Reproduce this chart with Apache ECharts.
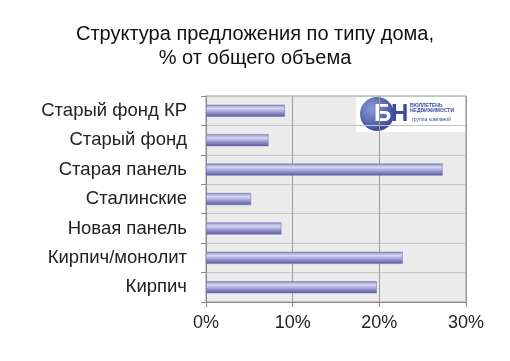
<!DOCTYPE html>
<html><head><meta charset="utf-8">
<script src="https://cdn.jsdelivr.net/npm/echarts@6/dist/echarts.min.js"></script>
<style>html,body{margin:0;padding:0;background:#fff}#c{width:510px;height:361px}</style>
</head><body><div id="c"></div>
<script>
const titleLines = ['Структура предложения по типу дома,', '% от общего объема'];
const categories = ['Старый фонд КР', 'Старый фонд', 'Старая панель', 'Сталинские', 'Новая панель', 'Кирпич/монолит', 'Кирпич'];
const values = [9.1, 7.2, 27.3, 5.2, 8.7, 22.7, 19.7];
const xTicks = [0, 10, 20, 30];

const chart = echarts.init(document.getElementById('c'));
const font = 'Liberation Sans, Arial, sans-serif';
chart.setOption({
  animation: false,
  title: {
    text: titleLines.join('\n'), left: 'center', top: 17,
    textStyle: {fontFamily: font, fontSize: 20, fontWeight: 'normal', color: '#111', lineHeight: 24}
  },
  grid: {left: 206, right: 44, top: 96, bottom: 59, show: true, backgroundColor: '#ebebeb', borderColor: '#9a9a9a', borderWidth: 1},
  xAxis: {
    type: 'value', min: xTicks[0], max: xTicks[xTicks.length - 1], interval: 10,
    axisLine: {show: true, lineStyle: {color: '#888'}},
    axisTick: {show: true, length: 5, lineStyle: {color: '#888'}},
    axisLabel: {formatter: '{value}%', fontFamily: font, fontSize: 18, color: '#222', margin: 12},
    splitLine: {show: true, lineStyle: {color: '#9a9a9a', width: 1}}
  },
  yAxis: {
    type: 'category', data: categories, inverse: true,
    axisLine: {show: true, lineStyle: {color: '#888'}},
    axisTick: {show: true, length: 5, lineStyle: {color: '#888'}},
    axisLabel: {fontFamily: font, fontSize: 18.5, color: '#222', margin: 19},
    splitLine: {show: true, lineStyle: {color: '#c4c4c4', width: 1}}
  },
  series: [{
    type: 'bar', data: values, barWidth: 12,
    itemStyle: {
      color: new echarts.graphic.LinearGradient(0, 0, 0, 1, [
        {offset: 0, color: '#8888c8'},
        {offset: 0.3, color: '#d8d8f4'},
        {offset: 0.6, color: '#9e9ed8'},
        {offset: 1, color: '#58589a'}
      ]),
      borderColor: '#6e6ea8', borderWidth: 0.5
    }
  }],
  graphic: [
    {type: 'rect', shape: {x: 356, y: 97, width: 109, height: 35}, style: {fill: '#ffffff'}},
    {type: 'circle', shape: {cx: 377, cy: 114, r: 17}, style: {fill: new echarts.graphic.RadialGradient(0.35, 0.35, 0.8, [{offset: 0, color: '#8a9ad8'}, {offset: 1, color: '#2c3c8c'}])}},
    {type: 'text', style: {x: 374, y: 114, text: 'Б', fill: '#ffffff', font: 'bold 24px Liberation Sans, Arial', verticalAlign: 'middle'}},
    {type: 'text', style: {x: 391, y: 114, text: 'Н', fill: '#3a4c9c', font: 'bold 24px Liberation Sans, Arial', verticalAlign: 'middle'}},
    {type: 'text', style: {x: 410, y: 108, text: 'БЮЛЛЕТЕНЬ\nНЕДВИЖИМОСТИ', fill: '#3a4c9c', font: 'bold 5px Liberation Sans, Arial', lineHeight: 5, verticalAlign: 'middle'}},
    {type: 'text', style: {x: 412, y: 120, text: 'группа компаний', fill: '#3a4c9c', font: '5px Liberation Sans, Arial', verticalAlign: 'middle'}}
  ]
});
</script></body></html>
